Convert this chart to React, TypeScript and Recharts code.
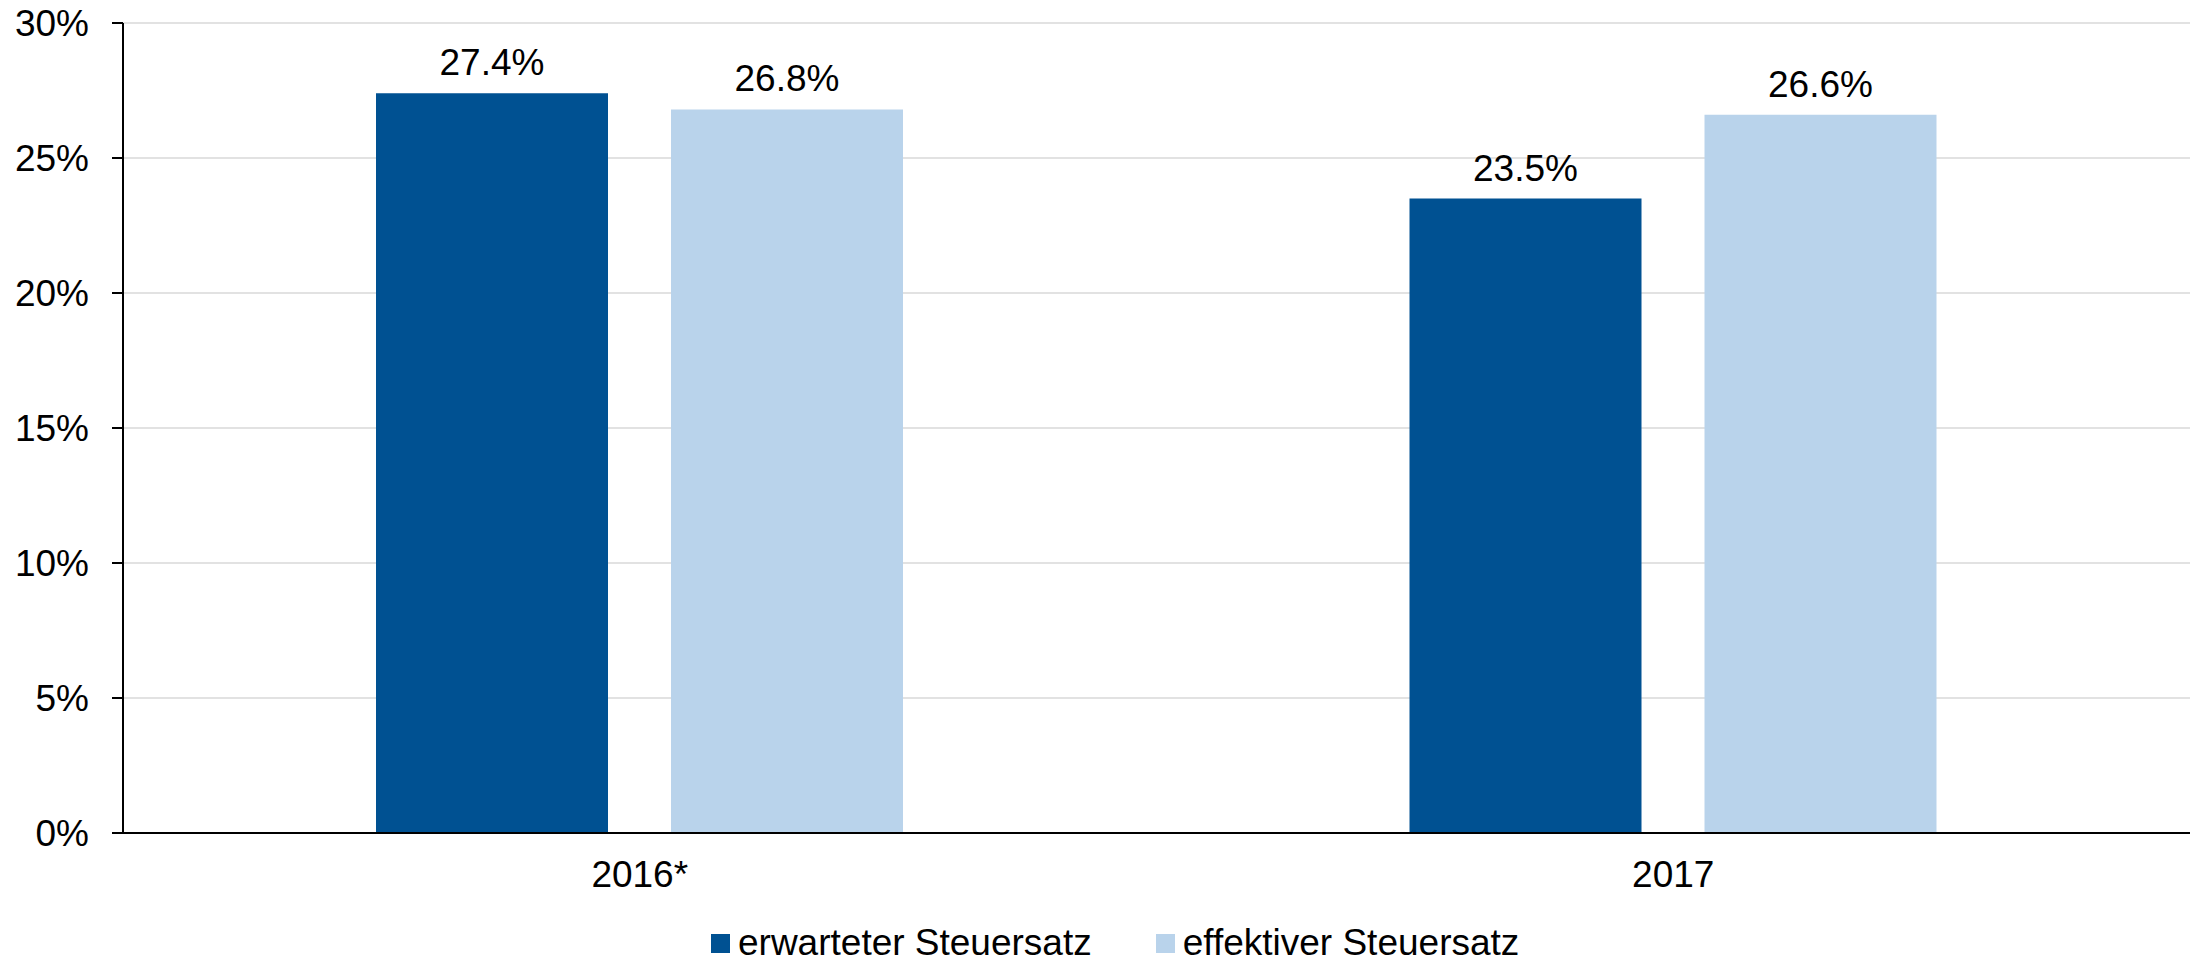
import React from "react";
import {
  BarChart,
  Bar,
  XAxis,
  YAxis,
  CartesianGrid,
  Legend,
  LabelList,
} from "recharts";

const years = ["2016*", "2017"];
const erwartet = [27.4, 23.5];
const effektiv = [26.8, 26.6];
const yTicks = [0, 5, 10, 15, 20, 25, 30];

const series = [
  { key: "erwartet", name: "erwarteter Steuersatz", color: "#005192" },
  { key: "effektiv", name: "effektiver Steuersatz", color: "#b9d3eb" },
];

const data = years.map((year, i) => ({
  year,
  erwartet: erwartet[i],
  effektiv: effektiv[i],
}));

const FONT = '"Liberation Sans", Arial, sans-serif';

const pct = (v: number) => `${v.toFixed(1)}%`;

function CustomLegend() {
  return (
    <div style={{ display: "flex", alignItems: "center", fontFamily: FONT }}>
      {series.map((s, i) => (
        <div
          key={s.key}
          style={{
            display: "flex",
            alignItems: "center",
            marginRight: i === 0 ? 64 : 0,
          }}>
          <span
            style={{
              display: "inline-block",
              width: 19,
              height: 19,
              background: s.color,
              marginRight: 8,
            }}
          />
          <span style={{ fontSize: 37, lineHeight: "42px", color: "#000" }}>
            {s.name}
          </span>
        </div>
      ))}
    </div>
  );
}

export default function App() {
  return (
    <div style={{ width: 2190, height: 960, background: "#fff" }}>
      <style>{`body{margin:0}`}</style>
      <BarChart
        width={2190}
        height={960}
        data={data}
        margin={{ top: 23, right: 0, left: 0, bottom: 67 }}
        barSize={232}
        barGap={63}>
        <CartesianGrid
          vertical={false}
          stroke="#d9d9d9"
          strokeWidth={1.5}
        />
        <XAxis
          dataKey="year"
          height={60}
          tickLine={false}
          axisLine={{ stroke: "#000", strokeWidth: 2 }}
          tick={{ fill: "#000", fontSize: 37, fontFamily: FONT }}
          tickMargin={22}
        />
        <YAxis
          width={123}
          domain={[0, 30]}
          ticks={yTicks}
          interval={0}
          tickFormatter={(v: number) => `${v}%`}
          tickSize={11}
          tickMargin={23}
          tickLine={{ stroke: "#000", strokeWidth: 2 }}
          axisLine={{ stroke: "#000", strokeWidth: 2 }}
          tick={{ fill: "#000", fontSize: 37, fontFamily: FONT }}
        />
        <Legend
          layout="horizontal"
          verticalAlign="middle"
          align="center"
          content={<CustomLegend />}
          wrapperStyle={{ left: 711, top: 922, width: "auto" }}
        />
        {series.map((s) => (
          <Bar
            key={s.key}
            dataKey={s.key}
            name={s.name}
            fill={s.color}
            isAnimationActive={false}>
            <LabelList
              dataKey={s.key}
              position="top"
              offset={18}
              formatter={(v: number) => pct(v)}
              style={{ fill: "#000", fontSize: 37, fontFamily: FONT }}
            />
          </Bar>
        ))}
      </BarChart>
    </div>
  );
}
